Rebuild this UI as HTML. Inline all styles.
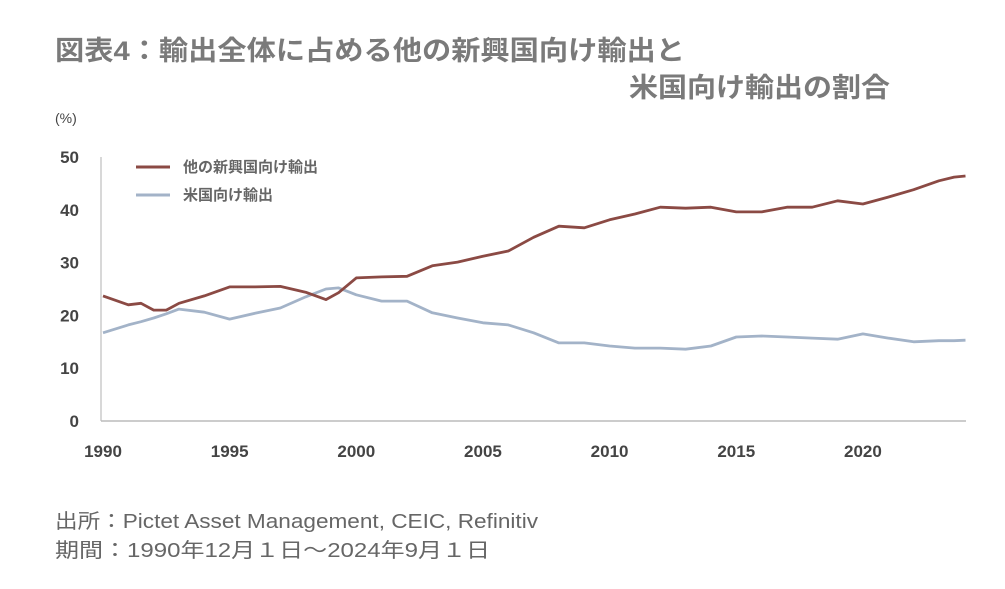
<!DOCTYPE html>
<html><head><meta charset="utf-8"><style>
body{margin:0;background:#fff}
svg{display:block}
</style></head><body>
<svg id="chart" width="1005" height="589" viewBox="0 0 1005 589" xmlns="http://www.w3.org/2000/svg" font-family="'Liberation Sans','Noto Sans CJK JP',sans-serif">
<text x="55" y="60" font-size="27" font-weight="bold" fill="#7a7a7a" textLength="630" lengthAdjust="spacingAndGlyphs">図表4：輸出全体に占める他の新興国向け輸出と</text>
<text x="629" y="97" font-size="27" font-weight="bold" fill="#7a7a7a" textLength="261" lengthAdjust="spacingAndGlyphs">米国向け輸出の割合</text>
<text x="55" y="123" font-size="14" fill="#444">(%)</text>
<g id="axes"></g>
<g id="series"></g>
<g>
<g>
<line x1="136" y1="167" x2="170" y2="167" stroke="#8b4a44" stroke-width="3"/>
<text x="183" y="172" font-size="15" font-weight="bold" fill="#666">他の新興国向け輸出</text></g>
<g>
<line x1="136" y1="195" x2="170" y2="195" stroke="#a3b3c8" stroke-width="3"/>
<text x="183" y="200" font-size="15" font-weight="bold" fill="#666">米国向け輸出</text></g>
</g>
<text x="55" y="528" font-size="20" fill="#666" textLength="483" lengthAdjust="spacingAndGlyphs">出所：Pictet Asset Management, CEIC, Refinitiv</text>
<text x="55" y="557" font-size="20" fill="#666" textLength="435" lengthAdjust="spacingAndGlyphs">期間：1990年12月１日～2024年9月１日</text>
</svg>
<script>
const years=[1990,1991,1991.5,1992,1992.5,1993,1994,1995,1996,1997,1998,1998.8,1999.3,2000,2001,2002,2003,2004,2005,2006,2007,2008,2009,2010,2011,2012,2013,2014,2015,2016,2017,2018,2019,2020,2021,2022,2023,2023.6,2024.05];
const emerging=[23.7,22.0,22.3,21.0,21.0,22.3,23.7,25.4,25.4,25.5,24.4,23.0,24.3,27.1,27.3,27.4,29.4,30.1,31.2,32.2,34.8,36.9,36.6,38.1,39.2,40.5,40.3,40.5,39.6,39.6,40.5,40.5,41.7,41.1,42.4,43.8,45.5,46.2,46.4];
const usShare=[16.7,18.2,18.8,19.5,20.3,21.2,20.6,19.3,20.4,21.4,23.5,25.0,25.2,23.9,22.7,22.7,20.5,19.5,18.6,18.2,16.7,14.8,14.8,14.2,13.8,13.8,13.6,14.2,15.9,16.1,15.9,15.7,15.5,16.5,15.7,15.0,15.2,15.2,15.3];
const yTicks=[0,10,20,30,40,50];
const xTicks=[1990,1995,2000,2005,2010,2015,2020];
const NS='http://www.w3.org/2000/svg';
const X0=103,PX_YEAR=25.33,Y0=421,PX_UNIT=5.28;
function xs(y){return X0+(y-1990)*PX_YEAR;}
function ys(v){return Y0-v*PX_UNIT;}
const axes=document.getElementById('axes'),ser=document.getElementById('series');
function mk(tag,attrs,parent){const e=document.createElementNS(NS,tag);for(const k in attrs)e.setAttribute(k,attrs[k]);parent.appendChild(e);return e;}
const ya=mk('line',{x1:101,y1:157,x2:101,y2:Y0,stroke:'#ccc','stroke-width':1.5},axes);


const xa=mk('line',{x1:101,y1:Y0,x2:966,y2:Y0,stroke:'#bbb','stroke-width':1.5},axes);


yTicks.forEach(v=>{const t=mk('text',{x:79,y:ys(v)+6,'font-size':17,'font-weight':'bold',fill:'#444','text-anchor':'end'},axes);t.textContent=v;

});
xTicks.forEach(v=>{const t=mk('text',{x:xs(v),y:457,'font-size':17,'font-weight':'bold',fill:'#444','text-anchor':'middle'},axes);t.textContent=v;

});
function line(vals,color,name){const d=vals.map((v,i)=>(i?'L':'M')+xs(years[i]).toFixed(1)+','+ys(v).toFixed(1)).join('');
const p=mk('path',{d:d,fill:'none',stroke:color,'stroke-width':2.8,'stroke-linejoin':'round'},ser);

}
line(usShare,'#a3b3c8','us-export-share-line');
line(emerging,'#8b4a44','emerging-export-share-line');
</script>
</body></html>
